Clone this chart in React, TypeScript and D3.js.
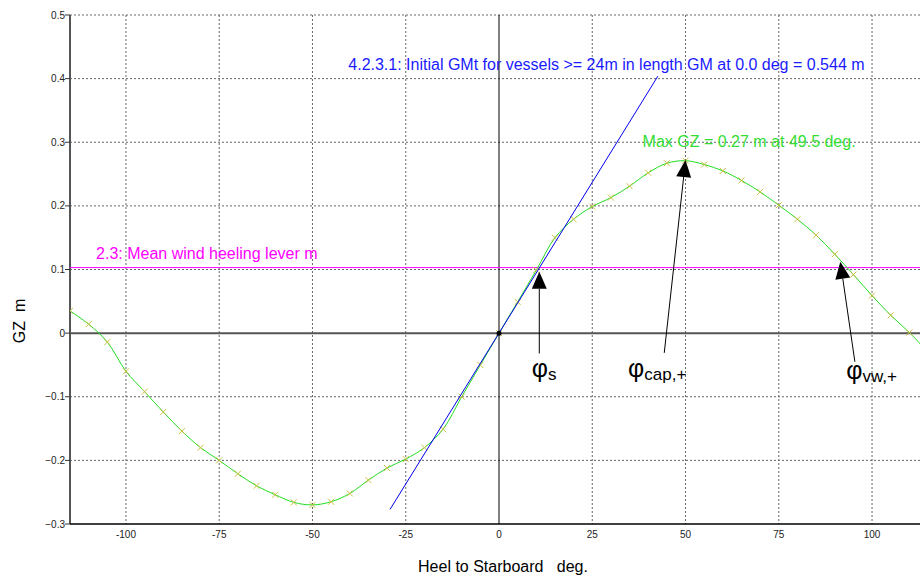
import React from "react";
import * as d3 from "d3";

// ---- data ----
const heelDeg = [
  -115, -110, -105, -100, -95, -90, -85, -80, -75, -70, -65, -60, -55, -50, -45, -40,
  -35, -30, -25, -20, -15, -10, -5, 0, 5, 10, 15, 20, 25, 30, 35, 40, 45, 50, 55, 60,
  65, 70, 75, 80, 85, 90, 95, 100, 105, 110, 115,
];
const gzValues = [
  0.035, 0.014, -0.014, -0.06, -0.092, -0.124, -0.154, -0.18, -0.2, -0.221, -0.24, -0.254,
  -0.266, -0.27, -0.265, -0.252, -0.231, -0.212, -0.198, -0.18, -0.151, -0.1, -0.05, 0,
  0.049, 0.099, 0.15, 0.179, 0.199, 0.213, 0.231, 0.252, 0.267, 0.271, 0.265, 0.255,
  0.24, 0.222, 0.201, 0.179, 0.154, 0.124, 0.092, 0.059, 0.028, 0.001, -0.03,
];
const xTicks = [-100, -75, -50, -25, 0, 25, 50, 75, 100];
const yTicks = [0.5, 0.4, 0.3, 0.2, 0.1, 0, -0.1, -0.2, -0.3];
const gmLineHeel = [-29.2, 42.6];
const gmLineGz = [-0.277, 0.404];
const heelingLever = 0.103;
const gmLabel = "4.2.3.1: Initial GMt for vessels >= 24m in length GM at 0.0 deg = 0.544 m";
const maxLabel = "Max GZ = 0.27 m at 49.5 deg.";
const windLabel = "2.3: Mean wind heeling lever m";
const gmLabelAt = [-40.4, 0.413];
const maxLabelAt = [38.5, 0.292];
const windLabelAt = [-108, 0.116];
// arrows: tip (heel, gz) and tail (heel, gz)
const arrowTips = [[10.8, 0.0964], [50.0, 0.272], [91.5, 0.112]];
const arrowTails = [[10.8, -0.032], [44.3, -0.031], [95.4, -0.045]];
const phiSubs = ["s", "cap,+", "vw,+"];
const phiAt = [[8.76, -0.069], [34.6, -0.069], [93.1, -0.072]];

const W = 920;
const H = 575;
const FONT = "'Liberation Sans', Arial, sans-serif";

export default function App() {
  const x = d3.scaleLinear().domain([-115, 115]).range([70, 928]);
  const y = d3.scaleLinear().domain([-0.3, 0.5]).range([524, 15]);
  const pts = heelDeg.map((h, i) => [h, gzValues[i]] as [number, number]);
  const line = d3
    .line<[number, number]>()
    .x((d) => x(d[0]))
    .y((d) => y(d[1]))
    .curve(d3.curveCatmullRom.alpha(0.5));
  const left = x(-115);
  const right = W;
  const top = y(0.5);
  const bottom = y(-0.3);

  const arrow = (tip: number[], tail: number[], i: number) => {
    const tx = x(tip[0]);
    const ty = y(tip[1]);
    const sx = x(tail[0]);
    const sy = y(tail[1]);
    const dx = tx - sx;
    const dy = ty - sy;
    const len = Math.hypot(dx, dy);
    const ux = dx / len;
    const uy = dy / len;
    const hl = 17;
    const hw = 7.5;
    const bx = tx - ux * hl;
    const by = ty - uy * hl;
    const p1 = [bx - uy * hw, by + ux * hw];
    const p2 = [bx + uy * hw, by - ux * hw];
    return (
      <g key={"a" + i}>
        <line x1={sx} y1={sy} x2={bx} y2={by} stroke="#000" strokeWidth={1} />
        <polygon points={`${tx},${ty} ${p1[0]},${p1[1]} ${p2[0]},${p2[1]}`} fill="#000" />
      </g>
    );
  };

  return (
    <svg
      width={W}
      height={H}
      style={{ position: "absolute", left: 0, top: 0, background: "#fff" }}
      fontFamily={FONT}
    >
      <defs>
        <clipPath id="plotClip">
          <rect x={left} y={top} width={right - left} height={bottom - top} />
        </clipPath>
      </defs>
      {/* grid */}
      {xTicks.map((t) =>
        t === 0 ? null : (
          <line
            key={"gx" + t}
            x1={x(t)}
            x2={x(t)}
            y1={top}
            y2={bottom}
            stroke="#666"
            strokeDasharray="2,2"
            strokeWidth={1}
          />
        )
      )}
      {yTicks.map((t) =>
        t === 0 || t === -0.3 ? null : (
          <line
            key={"gy" + t}
            x1={left}
            x2={right}
            y1={y(t)}
            y2={y(t)}
            stroke="#666"
            strokeDasharray="2,2"
            strokeWidth={1}
          />
        )
      )}
      {/* zero lines */}
      <line x1={left} x2={right} y1={y(0)} y2={y(0)} stroke="#555" strokeWidth={2} />
      <line x1={x(0)} x2={x(0)} y1={top} y2={bottom} stroke="#000" strokeWidth={1} />
      {/* axes */}
      <line x1={left} x2={left} y1={top} y2={bottom} stroke="#555" strokeWidth={2} />
      <line x1={left} x2={right} y1={bottom} y2={bottom} stroke="#000" strokeWidth={1.5} />
      {yTicks.map((t) => (
        <g key={"yt" + t}>
          <line x1={left - 5} x2={left} y1={y(t)} y2={y(t)} stroke="#333" strokeWidth={1} />
          <text x={left - 5} y={y(t)} dy="0.35em" textAnchor="end" fontSize={10} fill="#222">
            {t === 0 ? "0" : d3.format(".1f")(t)}
          </text>
        </g>
      ))}
      {xTicks.map((t) => (
        <text key={"xt" + t} x={x(t)} y={538} textAnchor="middle" fontSize={10} fill="#222">
          {t}
        </text>
      ))}
      <text x={503} y={572} textAnchor="middle" fontSize={16} fill="#000" xmlSpace="preserve">
        {"Heel to Starboard   deg."}
      </text>
      <text
        transform={`translate(25,321) rotate(-90)`}
        textAnchor="middle"
        fontSize={16}
        fill="#000"
        xmlSpace="preserve"
      >
        {"GZ  m"}
      </text>

      <g clipPath="url(#plotClip)">
        {/* heeling lever */}
        <line
          x1={left}
          x2={right}
          y1={y(heelingLever)}
          y2={y(heelingLever)}
          stroke="#ff00ff"
          strokeWidth={1}
        />
        {/* GZ curve */}
        <path d={line(pts) || ""} fill="none" stroke="#22dd22" strokeWidth={1} />
        {pts.map((p, i) => (
          <path
            key={"m" + i}
            d={`M${x(p[0]) - 3},${y(p[1]) - 3}L${x(p[0]) + 3},${y(p[1]) + 3}M${x(p[0]) - 3},${
              y(p[1]) + 3
            }L${x(p[0]) + 3},${y(p[1]) - 3}`}
            stroke="#c8c040"
            strokeWidth={1}
          />
        ))}
        {/* GM line */}
        <line
          x1={x(gmLineHeel[0])}
          y1={y(gmLineGz[0])}
          x2={x(gmLineHeel[1])}
          y2={y(gmLineGz[1])}
          stroke="#0000ee"
          strokeWidth={1}
        />
        <circle cx={x(0)} cy={y(0)} r={2.5} fill="#000" />
      </g>

      <text x={x(gmLabelAt[0])} y={y(gmLabelAt[1])} fontSize={16} fill="#1a1aff">
        {gmLabel}
      </text>
      <text x={x(maxLabelAt[0])} y={y(maxLabelAt[1])} fontSize={16} fill="#33dd33">
        {maxLabel}
      </text>
      <text x={x(windLabelAt[0])} y={y(windLabelAt[1])} fontSize={16} fill="#ff00ff">
        {windLabel}
      </text>

      {arrowTips.map((tip, i) => arrow(tip, arrowTails[i], i))}
      {phiAt.map((p, i) => (
        <text key={"phi" + i} x={x(p[0])} y={y(p[1])} fontSize={25} fill="#000">
          {"φ"}
          <tspan fontSize={17} dy={3}>
            {phiSubs[i]}
          </tspan>
        </text>
      ))}
    </svg>
  );
}
